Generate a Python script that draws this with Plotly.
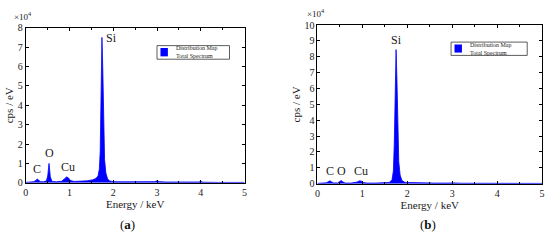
import plotly.graph_objects as go

# ---- data (counts in units of 1e4 cps/eV) ----
energy_a = [0.0, 0.1, 0.18, 0.23, 0.26, 0.29, 0.33, 0.40, 0.47, 0.50, 0.53, 0.56, 0.60, 0.70, 0.82, 0.88,
            0.93, 0.97, 1.02, 1.10, 1.25, 1.40, 1.52, 1.60, 1.65, 1.68, 1.70, 1.72, 1.74, 1.76, 1.78,
            1.80, 1.83, 1.87, 1.92, 2.0, 2.2, 2.5, 2.8, 2.95, 3.0, 3.05, 3.2, 3.45, 3.5, 3.55, 3.8,
            3.95, 4.0, 4.05, 4.4, 4.8, 5.0]
counts_a = [0.02, 0.03, 0.06, 0.12, 0.20, 0.15, 0.06, 0.05, 0.10, 0.35, 1.00, 0.30, 0.07, 0.05, 0.08, 0.20,
            0.30, 0.26, 0.12, 0.07, 0.07, 0.10, 0.15, 0.22, 0.35, 0.70, 1.60, 4.20, 7.50, 5.80, 2.60,
            1.20, 0.50, 0.20, 0.09, 0.06, 0.05, 0.04, 0.04, 0.06, 0.10, 0.06, 0.04, 0.04, 0.06, 0.04, 0.03,
            0.04, 0.07, 0.03, 0.02, 0.02, 0.02]

energy_b = [0.0, 0.1, 0.2, 0.25, 0.28, 0.31, 0.36, 0.45, 0.50, 0.53, 0.56, 0.62, 0.75, 0.88, 0.94,
            0.98, 1.02, 1.10, 1.30, 1.50, 1.60, 1.66, 1.69, 1.71, 1.73, 1.75, 1.77, 1.79, 1.81, 1.84,
            1.88, 1.95, 2.2, 2.6, 2.9, 2.97, 3.0, 3.03, 3.2, 3.45, 3.5, 3.55, 3.8, 4.0, 4.4, 4.8, 5.0]
counts_b = [0.02, 0.03, 0.06, 0.14, 0.18, 0.12, 0.05, 0.05, 0.12, 0.20, 0.12, 0.04, 0.04, 0.10, 0.18,
            0.16, 0.08, 0.04, 0.04, 0.05, 0.08, 0.25, 0.80, 2.50, 6.00, 8.45, 6.50, 3.20, 1.40, 0.55,
            0.20, 0.08, 0.05, 0.04, 0.04, 0.06, 0.08, 0.05, 0.03, 0.03, 0.05, 0.03, 0.03, 0.03, 0.02, 0.02, 0.02]

peaks_a = {"C": (0.26, 0.20), "O": (0.53, 1.00), "Cu": (0.96, 0.30), "Si": (1.74, 7.50)}
peaks_b = {"C": (0.28, 0.18), "O": (0.53, 0.20), "Cu": (0.98, 0.18), "Si": (1.75, 8.45)}

x_ticks = [0, 1, 2, 3, 4, 5]
y_ticks_a = list(range(0, 9))
y_ticks_b = list(range(0, 11))

BLUE = "#0000FF"
SERIF = "Liberation Serif, Times New Roman, serif"
TXT = "#1a1a1a"

fig = go.Figure()
fig.add_trace(go.Scatter(x=energy_a, y=counts_a, mode="lines", fill="tozeroy",
                         line=dict(color=BLUE, width=0.8), fillcolor=BLUE,
                         xaxis="x", yaxis="y", showlegend=False))
fig.add_trace(go.Scatter(x=energy_b, y=counts_b, mode="lines", fill="tozeroy",
                         line=dict(color=BLUE, width=0.8), fillcolor=BLUE,
                         xaxis="x2", yaxis="y2", showlegend=False))

def xaxis(domain, anchor):
    return dict(domain=domain, anchor=anchor, range=[0, 5], tickvals=x_ticks,
                ticks="inside", ticklen=3, tickwidth=0.8, tickcolor="black",
                minor=dict(dtick=0.5, ticks="inside", ticklen=2, tickcolor="black"),
                showline=True, linecolor="black", linewidth=1, mirror="ticks",
                showgrid=False, zeroline=False,
                tickfont=dict(family=SERIF, size=10, color=TXT),
                title=dict(text="Energy / keV", font=dict(family=SERIF, size=11, color=TXT),
                           standoff=1))

def yaxis(domain, anchor, top, ticks):
    return dict(domain=domain, anchor=anchor, range=[0, top], tickvals=ticks,
                ticks="inside", ticklen=3, tickwidth=0.8, tickcolor="black",
                showline=True, linecolor="black", linewidth=1, mirror="ticks",
                showgrid=False, zeroline=False,
                tickfont=dict(family=SERIF, size=10, color=TXT),
                title=dict(text="cps / eV", font=dict(family=SERIF, size=11, color=TXT),
                           standoff=1))

fig.update_layout(
    width=550, height=241, margin=dict(l=0, r=0, t=0, b=0),
    paper_bgcolor="white", plot_bgcolor="white",
    xaxis=xaxis([0.042, 0.444], "y"),
    yaxis=yaxis([0.228, 0.905], "x", 8, y_ticks_a),
    xaxis2=xaxis([0.578, 0.991], "y2"),
    yaxis2=yaxis([0.224, 0.917], "x2", 10, y_ticks_b),
)

annotations = []
for name, (ex, ey) in peaks_a.items():
    if name == "Si":
        annotations.append(dict(x=ex, y=ey, xref="x", yref="y", text=name, showarrow=False,
                                xanchor="left", yanchor="middle", xshift=2, yshift=-1,
                                font=dict(family=SERIF, size=12, color=TXT)))
    else:
        annotations.append(dict(x=ex, y=ey, xref="x", yref="y", text=name, showarrow=False,
                                xanchor="center", yanchor="bottom", yshift=1,
                                font=dict(family=SERIF, size=12, color=TXT)))
for name, (ex, ey) in peaks_b.items():
    annotations.append(dict(x=ex, y=ey, xref="x2", yref="y2", text=name, showarrow=False,
                            xanchor="center", yanchor="bottom", yshift=1,
                            font=dict(family=SERIF, size=12, color=TXT)))

# x10^4 labels
annotations.append(dict(x=20 / 550, y=1 - 10 / 241, xref="paper", yref="paper", text="×10<sup>4</sup>",
                        xanchor="center", yanchor="middle",
                        showarrow=False, font=dict(family=SERIF, size=9, color=TXT)))
annotations.append(dict(x=316 / 550, y=1 - 7 / 241, xref="paper", yref="paper", text="×10<sup>4</sup>",
                        xanchor="center", yanchor="middle",
                        showarrow=False, font=dict(family=SERIF, size=9, color=TXT)))
# panel labels
annotations.append(dict(x=126 / 550, y=1 - 230 / 241, xref="paper", yref="paper", text="(<b>a</b>)",
                        xanchor="center", yanchor="middle",
                        showarrow=False, font=dict(family=SERIF, size=13, color="#111")))
annotations.append(dict(x=430 / 550, y=1 - 230 / 241, xref="paper", yref="paper", text="(<b>b</b>)",
                        xanchor="center", yanchor="middle",
                        showarrow=False, font=dict(family=SERIF, size=13, color="#111")))

# legend boxes
shapes = []
legends = [(155.7, 41.7, 229, 56), (453, 38, 530, 52)]
W, H = 550.0, 241.0
for (x0, y0, x1, y1) in legends:
    shapes.append(dict(type="rect", xref="paper", yref="paper",
                       x0=x0 / W, x1=x1 / W, y0=1 - y1 / H, y1=1 - y0 / H,
                       line=dict(color="#333", width=0.8), fillcolor="white"))
    shapes.append(dict(type="rect", xref="paper", yref="paper",
                       x0=(x0 + 3.5) / W, x1=(x0 + 11) / W, y0=1 - (y1 - 3) / H, y1=1 - (y0 + 2.5) / H,
                       line=dict(width=0), fillcolor=BLUE))
    annotations.append(dict(x=(x0 + 17) / W, y=1 - (y0 + y1) / 2 / H, xref="paper", yref="paper",
                            text="Distribution Map<br>Total Spectrum", showarrow=False,
                            xanchor="left", yanchor="middle", align="left",
                            font=dict(family=SERIF, size=6, color="#222")))

fig.update_layout(annotations=annotations, shapes=shapes)
fig.write_html("out.html")
